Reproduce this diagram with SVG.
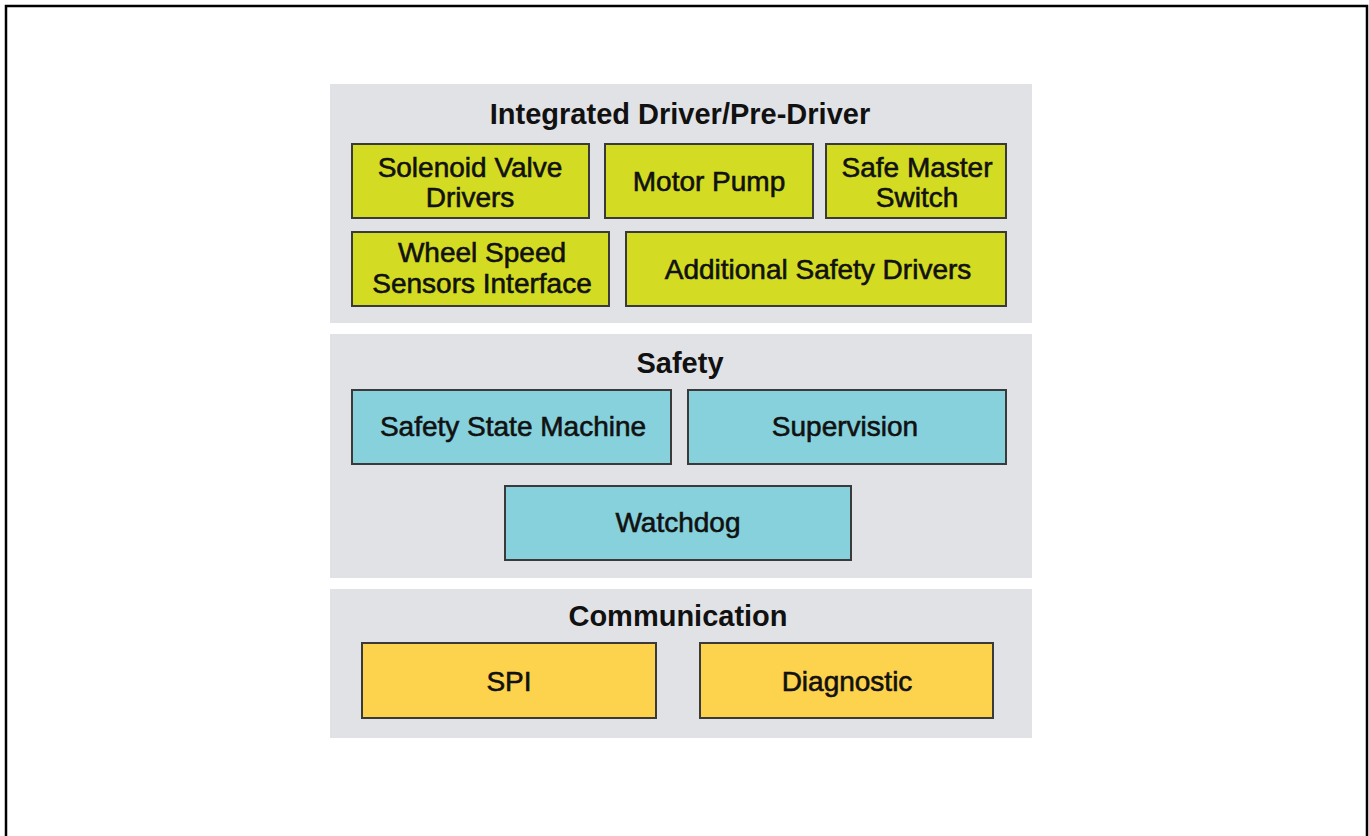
<svg xmlns="http://www.w3.org/2000/svg" width="1369" height="836" viewBox="0 0 1369 836">
<style>
.panel{fill:#e1e2e5}
.box{stroke:#3a3a3a;stroke-width:2}
.g{fill:#d3dc22}
.c{fill:#86d1dc}
.y{fill:#fdd24c}
.t{font-family:"Liberation Sans",Arial,sans-serif;font-size:28px;fill:#111;text-anchor:middle;stroke:#111;stroke-width:0.6}
.h{font-family:"Liberation Sans",Arial,sans-serif;font-size:29px;font-weight:bold;fill:#111;text-anchor:middle}
</style>
<rect width="1369" height="836" fill="#fff"/>
<path d="M6,836 V6 H1367 V836" fill="none" stroke="#000" stroke-width="2.5"/>
<g id="panel-driver">
<rect class="panel" x="330" y="84" width="702" height="239"/>
<text class="h" x="680" y="124">Integrated Driver/Pre-Driver</text>
</g>
<g id="solenoid"><rect class="box g" x="352" y="144" width="237" height="74"/><text class="t" x="470" y="177">Solenoid Valve</text><text class="t" x="470" y="207">Drivers</text></g>
<g id="motor"><rect class="box g" x="605" y="144" width="208" height="74"/><text class="t" x="709" y="191">Motor Pump</text></g>
<g id="safemaster"><rect class="box g" x="826" y="144" width="180" height="74"/><text class="t" x="917" y="177">Safe Master</text><text class="t" x="917" y="207">Switch</text></g>
<g id="wheel"><rect class="box g" x="352" y="232" width="257" height="74"/><text class="t" x="482" y="262">Wheel Speed</text><text class="t" x="482" y="293">Sensors Interface</text></g>
<g id="additional"><rect class="box g" x="626" y="232" width="380" height="74"/><text class="t" x="818" y="279">Additional Safety Drivers</text></g>
<g id="panel-safety">
<rect class="panel" x="330" y="334" width="702" height="244"/>
<text class="h" x="680" y="373">Safety</text>
</g>
<g id="ssm"><rect class="box c" x="352" y="390" width="319" height="74"/><text class="t" x="513" y="436">Safety State Machine</text></g>
<g id="supervision"><rect class="box c" x="688" y="390" width="318" height="74"/><text class="t" x="845" y="436">Supervision</text></g>
<g id="watchdog"><rect class="box c" x="505" y="486" width="346" height="74"/><text class="t" x="678" y="532">Watchdog</text></g>
<g id="panel-comm">
<rect class="panel" x="330" y="589" width="702" height="149"/>
<text class="h" x="678" y="626">Communication</text>
</g>
<g id="spi"><rect class="box y" x="362" y="643" width="294" height="75"/><text class="t" x="509" y="691">SPI</text></g>
<g id="diag"><rect class="box y" x="700" y="643" width="293" height="75"/><text class="t" x="847" y="691">Diagnostic</text></g>
<g id="connectors"></g>
</svg>
